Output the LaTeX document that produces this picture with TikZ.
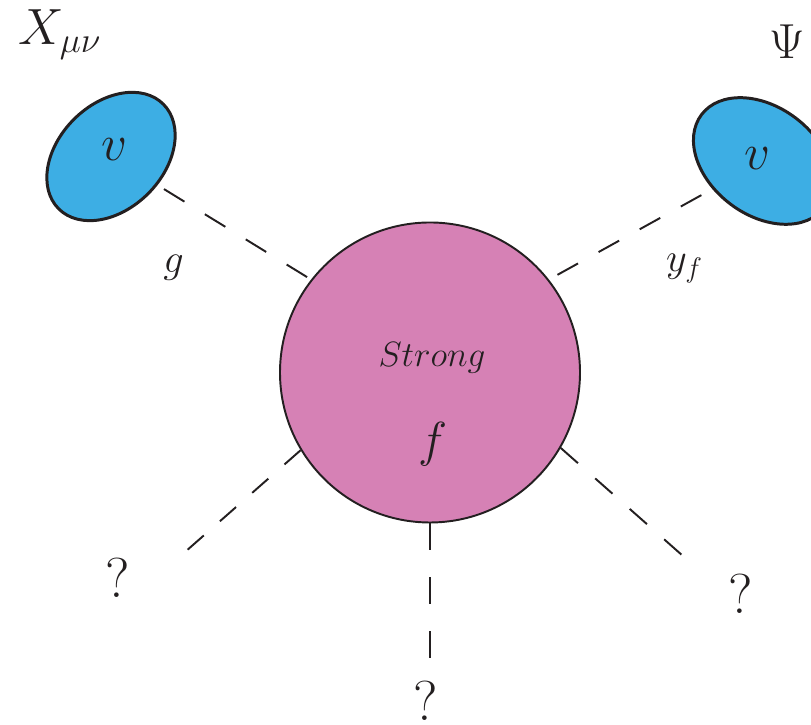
\RequirePackage{fix-cm}
\documentclass[tikz,border=0pt]{standalone}
\usepackage{tikz}
\usetikzlibrary{shapes.geometric}
\definecolor{vevblue}{HTML}{3DAEE4}
\definecolor{strongpink}{HTML}{D681B5}
\definecolor{inkdark}{HTML}{231F20}

\begin{document}
\begin{tikzpicture}[
    every node/.style={text=inkdark,inner sep=0pt},
    lbl/.style={font=\fontsize{#1}{#1}\selectfont},
    blob/.style={ellipse,draw=inkdark,fill=vevblue,line width=1.7pt},
    core/.style={circle,draw=inkdark,fill=strongpink,line width=1.1pt,minimum size=6cm},
    scalar/.style={draw=inkdark,line width=1.1pt,dash pattern=on #1 off #1}]
  \clip (0,0) rectangle (16.22,14.5);
  % sectors
  \node[core] (strong) at (8.60,7.05) {};
  \node[blob,rotate=45,minimum width=2.96cm,minimum height=2.10cm] (lv) at (2.22,11.37) {};
  \node[blob,rotate=-37,minimum width=3.08cm,minimum height=2.16cm] (rv) at (15.26,11.28) {};
  \node[lbl=29] (lvtext) at (2.28,11.50) {$v$};
  \node[lbl=29] (rvtext) at (15.14,11.32) {$v$};
  \node[lbl=20,anchor=base] (strongtext) at (8.64,7.16) {$Strong$};
  \node[lbl=28,anchor=base] (ftext) at (8.66,5.36) {$f$};
  % fields and couplings
  \node[lbl=29,anchor=base west] (xfield) at (0.36,13.60) {$X_{\mu\nu}$};
  \node[lbl=28] (psifield) at (15.74,13.67) {$\Psi$};
  \node[lbl=23] (gcoup) at (3.47,9.15) {$g$};
  \node[lbl=23] (ycoup) at (13.69,9.13) {$y_f$};
  % unknown legs
  \coordinate (q1) at (3.70,3.46);
  \coordinate (q2) at (8.60,1.34);
  \coordinate (q3) at (13.66,3.38);
  \node[lbl=32] (qleft) at (2.35,2.94) {?};
  \node[lbl=32] (qmid) at (8.52,0.48) {?};
  \node[lbl=32] (qright) at (14.82,2.62) {?};
  \draw[scalar=0.48cm,shorten <=0.15cm] (lv) -- (strong.142);
  \draw[scalar=0.47cm,shorten <=0.25cm] (rv) -- (strong.38);
  \draw[scalar=0.43cm] (strong.211) -- (q1);
  \draw[scalar=0.54cm] (strong.south) -- (q2);
  \draw[scalar=0.46cm] (strong.-30) -- (q3);
\end{tikzpicture}
\end{document}
